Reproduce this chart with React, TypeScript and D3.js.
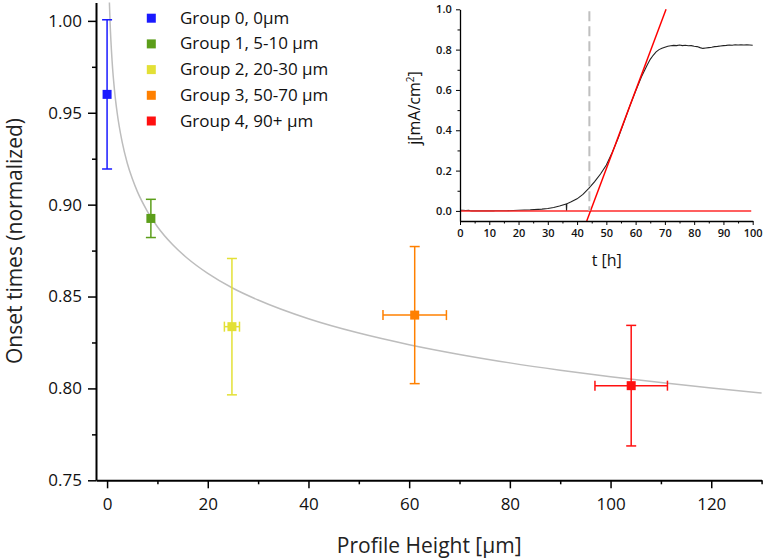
import React, { useEffect, useRef } from "react";
import * as d3 from "d3";

// main chart: onset times per group
const groupLabels = ["Group 0, 0µm", "Group 1, 5-10 µm", "Group 2, 20-30 µm", "Group 3, 50-70 µm", "Group 4, 90+ µm"];
const heights = [0, 8.7, 24.8, 61.1, 104.1];
const heightErr = [0, 0, 1.5, 6.3, 7.2];
const onset = [0.96, 0.8925, 0.8336, 0.8399, 0.8015];
const onsetErr = [0.0406, 0.0104, 0.0371, 0.0373, 0.0328];
const groupColors = ["#1a1aff", "#5c9e1a", "#e3e036", "#ff8000", "#ff1010"];

// gray fit curve
const fitHeight = [0.46, 0.6, 1, 1.5, 2, 3, 4, 5, 6, 8, 10, 13, 16, 20, 25, 30, 40, 50, 60, 70, 80, 90, 100, 110, 120, 130];
const fitOnset = [1.01, 0.999, 0.978, 0.9615, 0.95, 0.934, 0.9227, 0.9142, 0.9072, 0.8964, 0.888, 0.8783, 0.8707, 0.8626, 0.8545, 0.8481, 0.8379, 0.8301, 0.8238, 0.8185, 0.8139, 0.8099, 0.8063, 0.8032, 0.8002, 0.7975];

const yTicks = [0.75, 0.8, 0.85, 0.9, 0.95, 1.0];
const yMinor = [0.775, 0.825, 0.875, 0.925, 0.975];
const xTicks = [0, 20, 40, 60, 80, 100, 120];
const xMinor = [10, 30, 50, 70, 90, 110, 130];

// inset: current density over time
const timeH = [0, 1, 2, 3, 3.5, 4, 8, 11.5, 12, 16, 20, 24, 28, 30, 32, 34, 36.3, 36.4, 36.5, 38, 40, 42, 44, 46, 48, 50, 52, 54, 56, 58, 60, 62, 64, 65, 66, 67, 68, 69, 70, 71, 72, 73, 74, 75, 76, 77, 78, 79, 80, 81, 82, 83, 84, 85, 86, 87, 88, 89, 90, 91, 92, 93, 94, 95, 96, 97, 98, 99, 100];
const currentJ = [0.003, 0.003, 0.002, 0.003, 0.001, 0, 0, 0, 0.001, 0.001, 0.003, 0.005, 0.009, 0.012, 0.017, 0.024, 0.034, 0.0, 0.035, 0.045, 0.06, 0.082, 0.112, 0.145, 0.183, 0.228, 0.29, 0.36, 0.44, 0.52, 0.595, 0.665, 0.725, 0.752, 0.772, 0.789, 0.8, 0.807, 0.812, 0.817, 0.819, 0.821, 0.82, 0.823, 0.82, 0.822, 0.819, 0.82, 0.817, 0.815, 0.81, 0.806, 0.808, 0.81, 0.812, 0.815, 0.816, 0.818, 0.82, 0.821, 0.823, 0.822, 0.824, 0.823, 0.824, 0.823, 0.824, 0.823, 0.822];
const tangentT = [43.3, 70.4];
const tangentJ = [-0.05, 1.0];
const baseT = [0, 99.5];
const baseJ = [0, 0];
const onsetT = 44.2;
const insetXTicks = d3.range(0, 101, 10);
const insetXMinor = d3.range(5, 100, 10);
const insetYTicks = [0, 0.2, 0.4, 0.6, 0.8, 1.0];
const insetYMinor = [0.1, 0.3, 0.5, 0.7, 0.9];

const W = 765;
const H = 558;
const FONT = "'Open Sans', 'Noto Sans', sans-serif";

const App: React.FC = () => {
  const svgRef = useRef<SVGSVGElement | null>(null);

  useEffect(() => {
    const svg = d3.select(svgRef.current);
    svg.selectAll("*").remove();
    svg.attr("width", W).attr("height", H).style("font-family", FONT);

    const x = d3.scaleLinear().domain([-2.2, 130]).range([96, 761.6]);
    const y = d3.scaleLinear().domain([0.75, 1.01]).range([480.3, 2.5]);

    // fit curve
    const fitPts = fitHeight.map((h, i) => [h, fitOnset[i]] as [number, number]);
    svg.append("path")
      .datum(fitPts)
      .attr("fill", "none")
      .attr("stroke", "#bdbdbd")
      .attr("stroke-width", 1.5)
      .attr("d", d3.line<[number, number]>().x(d => x(d[0])).y(d => y(d[1])).curve(d3.curveMonotoneX));

    // error bars + markers
    const cap = 5;
    heights.forEach((h, i) => {
      const g = svg.append("g").attr("stroke", groupColors[i]).attr("stroke-width", 1.5);
      const cx = x(h);
      const top = y(onset[i] + onsetErr[i]);
      const bot = y(onset[i] - onsetErr[i]);
      g.append("line").attr("x1", cx).attr("x2", cx).attr("y1", top).attr("y2", bot);
      g.append("line").attr("x1", cx - cap).attr("x2", cx + cap).attr("y1", top).attr("y2", top);
      g.append("line").attr("x1", cx - cap).attr("x2", cx + cap).attr("y1", bot).attr("y2", bot);
      if (heightErr[i] > 0) {
        const cy = y(onset[i]);
        const l = x(h - heightErr[i]);
        const r = x(h + heightErr[i]);
        g.append("line").attr("x1", l).attr("x2", r).attr("y1", cy).attr("y2", cy);
        g.append("line").attr("x1", l).attr("x2", l).attr("y1", cy - cap).attr("y2", cy + cap);
        g.append("line").attr("x1", r).attr("x2", r).attr("y1", cy - cap).attr("y2", cy + cap);
      }
      svg.append("rect")
        .attr("x", cx - 4.5).attr("y", y(onset[i]) - 4.5)
        .attr("width", 9).attr("height", 9)
        .attr("fill", groupColors[i]);
    });

    // main axes
    const yAxis = svg.append("g").attr("transform", "translate(96,0)")
      .call(d3.axisLeft(y).tickValues(yTicks).tickSize(8).tickSizeOuter(0).tickPadding(6).tickFormat(d3.format(".2f")));
    svg.append("g").attr("transform", "translate(96,0)")
      .call(d3.axisLeft(y).tickValues(yMinor).tickSize(4).tickSizeOuter(0).tickFormat(() => ""))
      .call(g => g.select(".domain").remove());
    const xAxis = svg.append("g").attr("transform", "translate(0,480.3)")
      .call(d3.axisBottom(x).tickValues(xTicks).tickSize(8).tickSizeOuter(0).tickPadding(10));
    svg.append("g").attr("transform", "translate(0,480.3)")
      .call(d3.axisBottom(x).tickValues(xMinor).tickSize(4).tickSizeOuter(0).tickFormat(() => ""))
      .call(g => g.select(".domain").remove());
    [yAxis, xAxis].forEach(a => {
      a.attr("font-family", FONT).attr("font-size", 17);
      a.select(".domain").attr("stroke-width", 2);
      a.selectAll("text").attr("fill", "#111");
    });
    svg.selectAll(".tick line").attr("stroke-width", 1.5);

    svg.append("text")
      .attr("x", x(60) + 20).attr("y", 553)
      .attr("text-anchor", "middle").attr("font-size", 21).attr("fill", "#222")
      .text("Profile Height [µm]");
    svg.append("text")
      .attr("transform", "translate(22,241) rotate(-90)")
      .attr("text-anchor", "middle").attr("font-size", 21).attr("fill", "#222")
      .text("Onset times (normalized)");

    // legend
    groupLabels.forEach((label, i) => {
      const cy = 18.2 + i * 25.7;
      svg.append("rect")
        .attr("x", 151.3 - 4.5).attr("y", cy - 4.5).attr("width", 9).attr("height", 9)
        .attr("fill", groupColors[i]);
      svg.append("text")
        .attr("x", 180).attr("y", cy + 5.5)
        .attr("font-size", 17).attr("fill", "#111")
        .text(label);
    });

    // inset
    const xi = d3.scaleLinear().domain([0, 100]).range([460, 752.7]);
    const yi = d3.scaleLinear().domain([-0.05, 1.0]).range([221, 9.3]);
    const inset = svg.append("g");

    const line = d3.line<[number, number]>().x(d => xi(d[0])).y(d => yi(d[1]));
    inset.append("path")
      .datum(timeH.map((t, i) => [t, currentJ[i]] as [number, number]))
      .attr("fill", "none").attr("stroke", "#222").attr("stroke-width", 1.1)
      .attr("d", line);
    inset.append("path")
      .datum(baseT.map((t, i) => [t, baseJ[i]] as [number, number]))
      .attr("fill", "none").attr("stroke", "#ff2a2a").attr("stroke-width", 1.5)
      .attr("d", line);
    inset.append("path")
      .datum(tangentT.map((t, i) => [t, tangentJ[i]] as [number, number]))
      .attr("fill", "none").attr("stroke", "#ff0000").attr("stroke-width", 1.5)
      .attr("d", line);
    inset.append("line")
      .attr("x1", xi(onsetT)).attr("x2", xi(onsetT))
      .attr("y1", yi(0.99)).attr("y2", yi(0))
      .attr("stroke", "#bfbfbf").attr("stroke-width", 2)
      .attr("stroke-dasharray", "10,5");

    const ixAxis = inset.append("g").attr("transform", "translate(0,221)")
      .call(d3.axisBottom(xi).tickValues(insetXTicks).tickSize(4).tickSizeOuter(0).tickPadding(4.5).tickFormat(d3.format("d")));
    inset.append("g").attr("transform", "translate(0,221)")
      .call(d3.axisBottom(xi).tickValues(insetXMinor).tickSize(2.5).tickSizeOuter(0).tickFormat(() => ""))
      .call(g => g.select(".domain").remove());
    const iyAxis = inset.append("g").attr("transform", "translate(460,0)")
      .call(d3.axisLeft(yi).tickValues(insetYTicks).tickSize(4).tickSizeOuter(0).tickPadding(4.3).tickFormat(d3.format(".1f")));
    inset.append("g").attr("transform", "translate(460,0)")
      .call(d3.axisLeft(yi).tickValues(insetYMinor).tickSize(2.5).tickSizeOuter(0).tickFormat(() => ""))
      .call(g => g.select(".domain").remove());
    [ixAxis, iyAxis].forEach(a => {
      a.attr("font-family", FONT).attr("font-size", 11).attr("font-weight", 600);
      a.select(".domain").attr("stroke-width", 1.3);
      a.selectAll("text").attr("fill", "#111");
    });

    inset.append("text")
      .attr("x", 606.7).attr("y", 266)
      .attr("text-anchor", "middle").attr("font-size", 16).attr("fill", "#111")
      .text("t [h]");
    const jl = inset.append("text")
      .attr("transform", "translate(420,108) rotate(-90)")
      .attr("text-anchor", "middle").attr("font-size", 16).attr("fill", "#111");
    jl.append("tspan").text("j[mA/cm");
    jl.append("tspan").attr("font-size", 10).attr("dy", -6).text("2");
    jl.append("tspan").attr("dy", 6).text("]");
  }, []);

  return <svg ref={svgRef} style={{ position: "absolute", left: 0, top: 0 }}></svg>;
};

export default App;
